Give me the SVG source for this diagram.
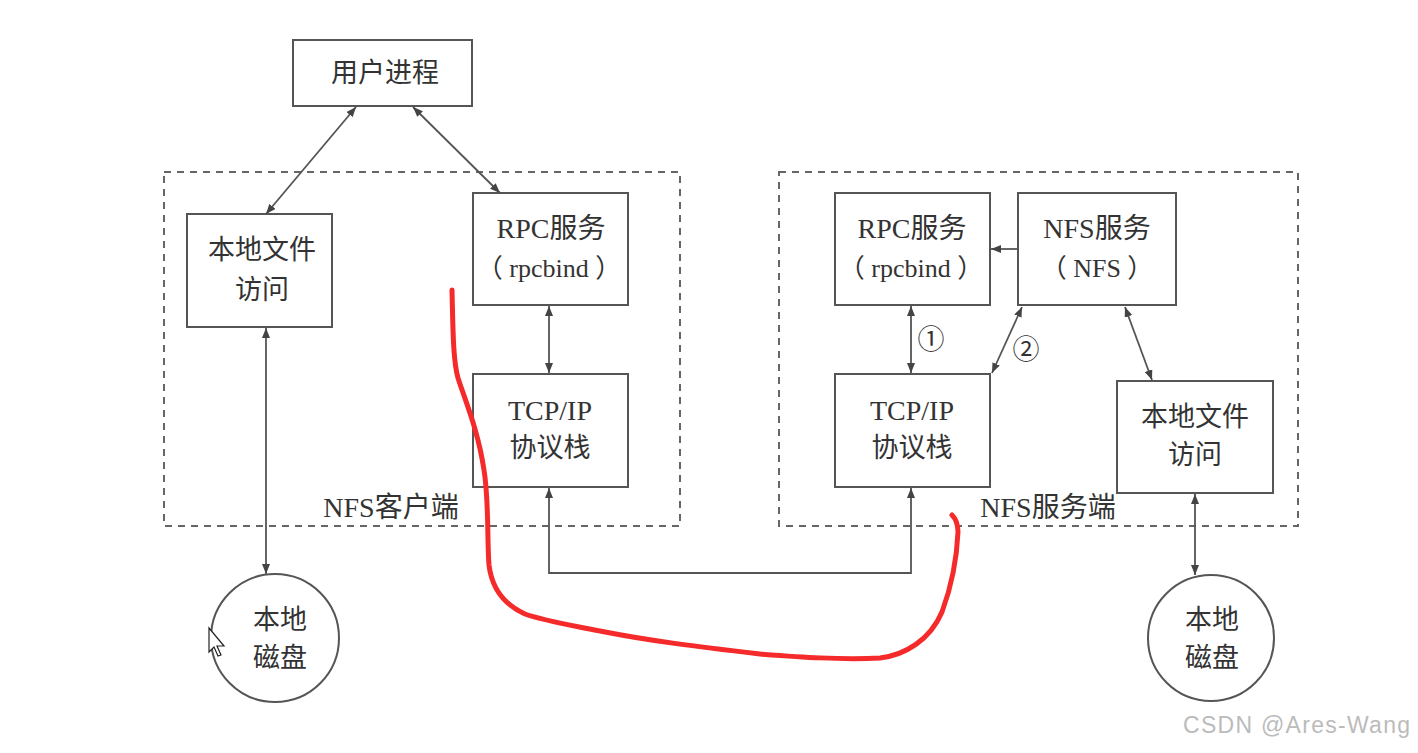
<svg xmlns="http://www.w3.org/2000/svg" width="1418" height="753" viewBox="0 0 1418 753">
<defs>
<style>
.box{fill:#fff;stroke:#555;stroke-width:2}
.dash{fill:none;stroke:#666;stroke-width:2;stroke-dasharray:7 6}
.ln{fill:none;stroke:#555;stroke-width:1.8}
.t{font-family:"Liberation Serif","Noto Sans CJK SC",serif;font-size:28px;fill:#333;text-anchor:middle;dominant-baseline:central}
.c{font-size:27px}
.red{fill:none;stroke:#f52a2a;stroke-width:5;stroke-linecap:round;stroke-linejoin:round}
</style>
<marker id="ah" viewBox="0 0 10 8" refX="10" refY="4" markerWidth="10" markerHeight="8" markerUnits="userSpaceOnUse" orient="auto-start-reverse">
<path d="M0,0 L10,4 L0,8 Z" fill="#444"/>
</marker>
</defs>
<rect width="1418" height="753" fill="#fff"/>

<g id="client-area">
<rect class="dash" x="164" y="172" width="516" height="354"/>
<text class="t" x="391" y="507">NFS客户端</text>
</g>
<g id="server-area">
<rect class="dash" x="779" y="172" width="519" height="354"/>
<text class="t" x="1048" y="507">NFS服务端</text>
</g>

<g id="user-process">
<rect class="box" x="293" y="40" width="179" height="66"/>
<text class="t c" x="385" y="73">用户进程</text>
</g>
<g id="client-local-file">
<rect class="box" x="187" y="214" width="145" height="113"/>
<text class="t c" x="262" y="250">本地文件</text>
<text class="t c" x="262" y="290">访问</text>
</g>
<g id="client-rpc">
<rect class="box" x="473" y="193" width="155" height="112"/>
<text class="t" x="551" y="228">RPC服务</text>
<text class="t" x="549" y="268" style="font-size:26px">（ rpcbind ）</text>
</g>
<g id="client-tcp">
<rect class="box" x="473" y="374" width="155" height="113"/>
<text class="t" x="550" y="410">TCP/IP</text>
<text class="t c" x="550" y="448">协议栈</text>
</g>
<g id="client-disk">
<circle class="box" cx="275" cy="638" r="64"/>
<text class="t c" x="280" y="620">本地</text>
<text class="t c" x="280" y="658">磁盘</text>
</g>

<g id="server-rpc">
<rect class="box" x="835" y="193" width="155" height="112"/>
<text class="t" x="912" y="228">RPC服务</text>
<text class="t" x="911" y="268" style="font-size:26px">（ rpcbind ）</text>
</g>
<g id="server-nfs">
<rect class="box" x="1018" y="193" width="158" height="112"/>
<text class="t" x="1097" y="228">NFS服务</text>
<text class="t" x="1097" y="268" style="font-size:26px">（ NFS ）</text>
</g>
<g id="server-tcp">
<rect class="box" x="835" y="374" width="155" height="113"/>
<text class="t" x="912" y="410">TCP/IP</text>
<text class="t c" x="912" y="448">协议栈</text>
</g>
<g id="server-local-file">
<rect class="box" x="1117" y="381" width="156" height="112"/>
<text class="t c" x="1195" y="417">本地文件</text>
<text class="t c" x="1195" y="455">访问</text>
</g>
<g id="server-disk">
<circle class="box" cx="1211" cy="638" r="63"/>
<text class="t c" x="1212" y="620">本地</text>
<text class="t c" x="1212" y="658">磁盘</text>
</g>

<g id="connectors">
<line class="ln" x1="356" y1="107" x2="266" y2="214" marker-start="url(#ah)" marker-end="url(#ah)"/>
<line class="ln" x1="413" y1="107" x2="500" y2="193" marker-start="url(#ah)" marker-end="url(#ah)"/>
<line class="ln" x1="266" y1="328" x2="266" y2="574" marker-start="url(#ah)" marker-end="url(#ah)"/>
<line class="ln" x1="549" y1="306" x2="549" y2="373" marker-start="url(#ah)" marker-end="url(#ah)"/>
<polyline class="ln" points="549,488 549,573 911,573 911,488" marker-start="url(#ah)" marker-end="url(#ah)"/>
<line class="ln" x1="911" y1="306" x2="911" y2="373" marker-start="url(#ah)" marker-end="url(#ah)"/>
<line class="ln" x1="1018" y1="249" x2="991" y2="249" marker-end="url(#ah)"/>
<line class="ln" x1="1022" y1="307" x2="992" y2="373" marker-start="url(#ah)" marker-end="url(#ah)"/>
<line class="ln" x1="1125" y1="307" x2="1152" y2="380" marker-start="url(#ah)" marker-end="url(#ah)"/>
<line class="ln" x1="1195" y1="494" x2="1195" y2="575" marker-start="url(#ah)" marker-end="url(#ah)"/>
<text class="t" x="931" y="340" style="font-size:27px">①</text>
<text class="t" x="1026" y="350" style="font-size:27px">②</text>
</g>

<path class="red" d="M452,290 C453,330 453,360 458,378 C465,400 478,430 484,470 C489,500 487,540 489,565 C492,590 505,605 525,614 C545,621 565,624 600,631 C650,641 700,647 760,654 C800,657 840,660 880,658 C905,655 930,640 942,612 C952,585 957,555 958,532 C958,524 955,518 952,515"/>

<path d="M209,628 L209,652 L214,647 L218,656 L221,655 L217,646 L224,646 Z" fill="#fff" stroke="#222" stroke-width="1.2"/>

<text x="1183" y="733" textLength="227" style="font-family:'Liberation Sans','Noto Sans',sans-serif;font-size:23px;fill:#bbb">CSDN @Ares-Wang</text>
</svg>
